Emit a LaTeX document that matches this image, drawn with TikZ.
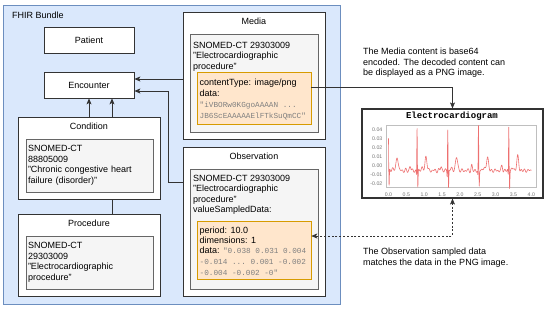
\documentclass[tikz,border=0pt]{standalone}
\usepackage{fontspec}
\setmainfont{Liberation Sans}
\setsansfont{Liberation Sans}
\setmonofont{Liberation Mono}
\usepackage{xcolor}
\usepackage{tikz}
\usetikzlibrary{positioning,arrows.meta,backgrounds,calc}

\definecolor{bundlefill}{HTML}{DAE8FC}
\definecolor{bundleline}{HTML}{6C8EBF}
\definecolor{boxline}{HTML}{333333}
\definecolor{greyfill}{HTML}{F5F5F5}
\definecolor{greyline}{HTML}{666666}
\definecolor{orangefill}{HTML}{FFE6CC}
\definecolor{orangeline}{HTML}{D79B00}
\definecolor{ecgred}{HTML}{EE7070}

\newcommand{\code}[1]{{\fontsize{7.7}{10}\selectfont\ttfamily\color{black!50}#1}}

\begin{document}
\begin{tikzpicture}[
  x=1pt, y=-1pt,
  font=\fontsize{9}{10.5}\selectfont,
  >={Stealth[length=6pt,width=5pt,inset=1.5pt]},
  bundle/.style  ={rectangle, draw=bundleline, fill=bundlefill, line width=0.8pt},
  res/.style     ={rectangle, draw=boxline, fill=white, line width=0.8pt, inner sep=0pt},
  greybox/.style ={rectangle, draw=greyline, fill=greyfill, line width=0.6pt},
  codebox/.style ={rectangle, draw=orangeline, fill=orangefill, line width=0.6pt},
  title/.style   ={inner sep=0pt, text height=6.5pt, text depth=1.5pt},
  txt/.style     ={anchor=north west, inner sep=0pt, align=left},
  mono/.style    ={txt, font=\fontsize{7.7}{11.2}\selectfont\ttfamily, text=black!50},
  note/.style    ={txt, font=\fontsize{9}{10.8}\selectfont},
  chart/.style   ={rectangle, draw=boxline, fill=white, line width=1.2pt},
  tick/.style    ={inner sep=0pt, font=\fontsize{5.2}{6}\selectfont, text=black!55},
  arr/.style     ={->, draw=boxline, line width=0.7pt},
  darr/.style    ={<->, draw=boxline, line width=0.7pt, dash pattern=on 2pt off 1.8pt},
  declare function={
    gs(\z)=exp(-pow(min(abs(\z),6),2));
    beat(\p)=0.048*gs(\p/0.009)-0.006*gs((\p+0.018)/0.007)-0.019*gs((\p-0.022)/0.01)
             +0.015*gs((\p-0.25)/0.04)+0.005*gs((\p+0.19)/0.025)+0.002*gs((\p-0.12)/0.06);
    noise(\t)=-0.005+0.0014*sin(3900*\t)+0.0009*sin(2300*\t+40)+0.0006*sin(3100*\t+80);
  },
]
\useasboundingbox (0,0) rectangle (550,311);

% ---------- LEFT COLUMN ----------
\node[res, minimum width=90, minimum height=26] (patient)   at (89,40) {Patient};
\node[res, minimum width=90, minimum height=26] (encounter) at (89,85) {Encounter};

\node[res, minimum width=142, minimum height=82] (procedure) at (89,255) {};
\node[title, below=6pt of procedure.north] (proctitle) {Procedure};
\node[greybox, minimum width=127, minimum height=53, text width=123, inner sep=2pt, align=left]
  (procsnomed) at (89.5,262.5) {SNOMED-CT\\29303009\\"Electrocardiographic\\procedure"};

% procedure link runs behind the condition box
\begin{scope}[on background layer]
  \node[bundle, minimum width=337, minimum height=299] (bundle) at (171.5,154.5) {};
  \draw[arr] ($(procedure.north)+(23,0)$) -- ($(encounter.south)+(23,0)$);
\end{scope}
\node[anchor=west, inner sep=0pt] (bundlelabel) at (12,15) {FHIR Bundle};

\node[res, minimum width=142, minimum height=82] (condition) at (89,158) {};
\node[title, below=6pt of condition.north] (condtitle) {Condition};
\node[greybox, minimum width=127, minimum height=53, text width=123, inner sep=2pt, align=left]
  (condsnomed) at (89.5,165.5) {SNOMED-CT\\88805009\\"Chronic congestive heart\\failure (disorder)"};

% ---------- MEDIA ----------
\node[res, minimum width=142, minimum height=127] (media) at (254,75.5) {};
\node[title, below=6pt of media.north] (mediatitle) {Media};
\node[greybox, minimum width=128, minimum height=98] (mediagrey) at (254,83) {};
\node[txt] (mediatext) at (193,41.8) {SNOMED-CT 29303009\\"Electrocardiographic\\procedure"};
\node[codebox, minimum width=114, minimum height=52] (mediaorange) at (254,98) {};
\node[txt] (mediatype) at (199.5,78.8) {contentType: image/png\\data:};
\node[mono] (mediadata) at (199.5,101.3) {"iVBORw0KGgoAAAAN ...\\JB6ScEAAAAAElFTkSuQmCC"};

% ---------- OBSERVATION ----------
\node[res, minimum width=142, minimum height=149] (observation) at (254,221.5) {};
\node[title, below=6pt of observation.north] (obstitle) {Observation};
\node[greybox, minimum width=128, minimum height=120] (obsgrey) at (254,229) {};
\node[txt] (obstext) at (193,174.7) {SNOMED-CT 29303009\\"Electrocardiographic\\procedure"\\valueSampledData:};
\node[codebox, minimum width=114, minimum height=58] (obsorange) at (254,250) {};
\node[txt, font=\fontsize{9}{10}\selectfont] (obsperiod) at (199.5,226.8)
  {period: 10.0\\dimensions: 1\\data: \code{"0.038 0.031 0.004}};
\node[mono] (obsdata) at (199.5,259) {-0.014 ... 0.001 -0.002\\-0.004 -0.002 -0"};

% ---------- CHART ----------
\node[chart, minimum width=181, minimum height=89] (chart) at (452.5,153.5) {};
\node[anchor=base, inner sep=0pt, font=\fontsize{9}{10}\selectfont\ttfamily\bfseries]
  (charttitle) at (452,118.5) {Electrocardiogram};
\draw[black!25, line width=0.5pt] (386,125) rectangle (536,187);
\foreach \v/\lab [count=\i] in {0.04/0.04, 0.03/0.03, 0.02/0.02, 0.01/0.01, 0/0.00, -0.01/-0.01, -0.02/-0.02}
  \node[tick, anchor=east] (ytick\i) at (382.5,{166-910*\v}) {\lab};
\foreach \t [count=\i] in {0.0,0.5,1.0,1.5,2.0,2.5,3.0,3.5,4.0}
  \node[tick] (xtick\i) at ({388.5+35.7*\t},194.3) {\t};
\begin{scope}[shift={(388.5,166)}, xscale=35.7, yscale=-910]
  \foreach \rpk/\lo/\hi in {-0.005/0/0.40, 0.80/0.40/1.23, 1.66/1.23/2.09, 2.52/2.09/2.945, 3.37/2.945/4.0}
    \draw[ecgred, line width=0.6pt, line join=round]
      plot[domain=\lo:\hi, samples=170] (\x,{beat((\x)-(\rpk))+noise(\x)});
\end{scope}

% ---------- NOTES ----------
\node[note] (medianote) at (363,47.5) {The Media content is base64\\encoded. The decoded content can\\be displayed as a PNG image.};
\node[note] (obsnote) at (363,247.5) {The Observation sampled data\\matches the data in the PNG image.};

% ---------- ARROWS ----------
\coordinate (encin1) at ($(encounter.east)+(0,-6)$);
\coordinate (encin2) at ($(encounter.east)+(0,6)$);
\coordinate (encbend) at ($(encin2)+(34,0)$);
\coordinate (obsout) at ($(observation.north west)+(0,36)$);
\coordinate (mediaout) at ($(mediaorange.east)+(0,-11)$);
\coordinate (obsin) at ($(obsorange.east)+(0,-14)$);
\draw[arr] (condition.north) -- (encounter.south);
\draw[arr] (media.west |- encin1) -- (encin1);
\draw[arr] (obsout) -| (encbend) -- (encin2);
\draw[arr] (mediaout) -| (chart.north);
\draw[darr] (chart.south) |- (obsin);

\end{tikzpicture}
\end{document}
